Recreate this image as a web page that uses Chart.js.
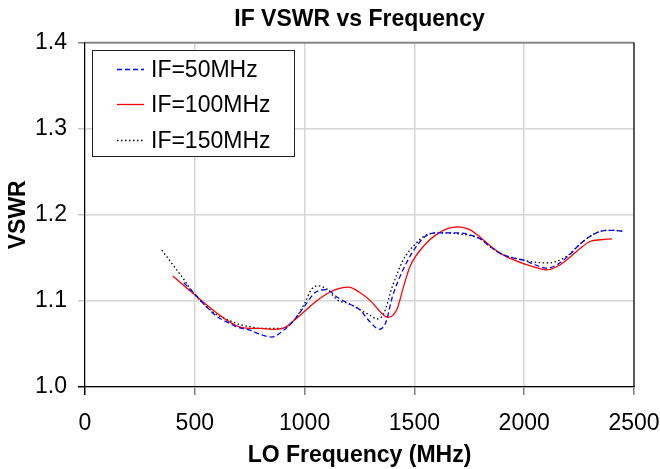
<!DOCTYPE html>
<html>
<head>
<meta charset="utf-8">
<script src="https://cdn.jsdelivr.net/npm/chart.js@4.4.1/dist/chart.umd.min.js"></script>
<style>
  html, body { margin: 0; padding: 0; background: #ffffff; }
  #wrap { width: 660px; height: 469px; }
</style>
</head>
<body>
<div id="wrap"><canvas id="c" width="660" height="469"></canvas></div>
<script>
// ---- Data ----
const seriesLabels = ["IF=50MHz", "IF=100MHz", "IF=150MHz"];

const freq50 = [450, 500, 550, 600, 650, 700, 750, 800, 850, 900, 950, 1000, 1050, 1100, 1150, 1200, 1250, 1300, 1340, 1370, 1400, 1450, 1500, 1550, 1600, 1650, 1700, 1750, 1800, 1850, 1900, 1950, 2000, 2050, 2100, 2150, 2200, 2250, 2300, 2350, 2400, 2450];
const vswr50 = [1.121, 1.108, 1.094, 1.082, 1.075, 1.069, 1.066, 1.061, 1.058, 1.065, 1.077, 1.094, 1.110, 1.113, 1.104, 1.097, 1.090, 1.075, 1.067, 1.075, 1.105, 1.137, 1.160, 1.175, 1.179, 1.179, 1.179, 1.177, 1.172, 1.162, 1.154, 1.150, 1.147, 1.142, 1.138, 1.142, 1.152, 1.165, 1.175, 1.181, 1.182, 1.181];

const freq100 = [400, 450, 500, 550, 600, 650, 700, 750, 800, 850, 900, 950, 1000, 1050, 1100, 1150, 1200, 1250, 1300, 1350, 1380, 1420, 1450, 1480, 1550, 1600, 1650, 1700, 1750, 1800, 1850, 1900, 1950, 2000, 2050, 2100, 2150, 2200, 2250, 2300, 2350, 2400];
const vswr100 = [1.129, 1.118, 1.107, 1.096, 1.086, 1.077, 1.070, 1.068, 1.068, 1.067, 1.068, 1.077, 1.088, 1.099, 1.108, 1.114, 1.116, 1.110, 1.100, 1.086, 1.081, 1.090, 1.116, 1.140, 1.166, 1.177, 1.184, 1.186, 1.183, 1.174, 1.163, 1.154, 1.148, 1.143, 1.139, 1.136, 1.140, 1.149, 1.160, 1.169, 1.171, 1.172];

const freq150 = [350, 400, 450, 500, 550, 600, 650, 700, 750, 800, 850, 900, 950, 1000, 1030, 1060, 1100, 1150, 1200, 1250, 1300, 1330, 1360, 1400, 1450, 1500, 1550, 1600, 1650, 1700, 1750, 1800, 1850, 1900, 1950, 2000, 2050, 2100, 2150, 2200, 2250, 2300, 2350, 2400, 2450];
const vswr150 = [1.159, 1.142, 1.125, 1.107, 1.094, 1.084, 1.078, 1.073, 1.070, 1.068, 1.068, 1.068, 1.077, 1.097, 1.113, 1.1175, 1.114, 1.101, 1.097, 1.090, 1.083, 1.079, 1.085, 1.117, 1.148, 1.165, 1.176, 1.179, 1.179, 1.178, 1.176, 1.172, 1.162, 1.154, 1.150, 1.147, 1.145, 1.144, 1.146, 1.153, 1.165, 1.175, 1.181, 1.182, 1.181];

const xTicks = [0, 500, 1000, 1500, 2000, 2500];
const yTicks = [1.0, 1.1, 1.2, 1.3, 1.4];

const chartTitle = "IF VSWR vs Frequency";
const xTitle = "LO Frequency (MHz)";
const yTitle = "VSWR";

// ---- Build datasets ----
function pts(xs, ys) { return xs.map((x, i) => ({ x: x, y: ys[i] })); }

const FONT = "'Liberation Sans', Arial, Helvetica, sans-serif";

const datasets = [
  { label: seriesLabels[0], data: pts(freq50, vswr50), borderColor: "#0000ff", borderWidth: 1.3, borderDash: [5, 3] },
  { label: seriesLabels[1], data: pts(freq100, vswr100), borderColor: "#ff0000", borderWidth: 1.3, borderDash: [] },
  { label: seriesLabels[2], data: pts(freq150, vswr150), borderColor: "#000000", borderWidth: 1.3, borderDash: [1.5, 2.5] }
].map(d => Object.assign(d, { pointRadius: 0, fill: false, cubicInterpolationMode: "monotone" }));

const frameAndLegend = {
  id: "frameAndLegend",
  afterDatasetsDraw(chart) {
    const { ctx, chartArea: a } = chart;
    ctx.save();
    // top and right frame lines
    ctx.lineWidth = 1.5;
    ctx.strokeStyle = "#808080";
    ctx.beginPath(); ctx.moveTo(a.left, a.top); ctx.lineTo(a.right, a.top); ctx.stroke();
    ctx.strokeStyle = "#000000";
    ctx.lineWidth = 1.2;
    ctx.beginPath(); ctx.moveTo(a.right, a.top); ctx.lineTo(a.right, a.bottom); ctx.stroke();

    // legend box
    const bx = 92.5, by = 50.5, bw = 202, bh = 106;
    ctx.fillStyle = "#ffffff";
    ctx.fillRect(bx, by, bw, bh);
    ctx.strokeStyle = "#222222";
    ctx.lineWidth = 1;
    ctx.strokeRect(bx, by, bw, bh);
    const rows = [69.5, 104.5, 140.5];
    ctx.font = "23px " + FONT;
    ctx.textBaseline = "middle";
    ctx.textAlign = "left";
    chart.data.datasets.forEach((ds, i) => {
      const y = rows[i];
      ctx.strokeStyle = ds.borderColor;
      ctx.lineWidth = ds.borderWidth;
      ctx.setLineDash(ds.borderDash || []);
      ctx.beginPath(); ctx.moveTo(117, y); ctx.lineTo(144, y); ctx.stroke();
      ctx.setLineDash([]);
      ctx.fillStyle = "#000000";
      ctx.fillText(ds.label, 151, y + 1);
    });
    ctx.restore();
  }
};

new Chart(document.getElementById("c"), {
  type: "line",
  data: { datasets: datasets },
  plugins: [frameAndLegend],
  options: {
    responsive: false,
    animation: false,
    layout: { padding: { left: 0, right: 0, top: 0, bottom: 0 } },
    plugins: {
      legend: { display: false },
      tooltip: { enabled: false },
      title: {
        display: true,
        fullSize: false,
        text: chartTitle,
        color: "#000000",
        font: { family: FONT, size: 23, weight: "bold" },
        padding: { top: 6, bottom: 9 }
      }
    },
    scales: {
      x: {
        type: "linear",
        min: xTicks[0],
        max: xTicks[xTicks.length - 1],
        afterBuildTicks(scale) { scale.ticks = xTicks.map(v => ({ value: v })); },
        afterFit(scale) { scale.height = 82; scale.paddingRight = 26; scale.paddingLeft = 0; },
        ticks: { color: "#000000", font: { family: FONT, size: 23 }, padding: 15, maxRotation: 0, autoSkip: false, callback: (v) => String(v) },
        grid: {
          color: "#d6d6d6",
          lineWidth: 1.5,
          tickLength: 8,
          tickColor: (c) => (c.tick && c.tick.value === 0 ? "#000000" : "#808080")
        },
        border: { display: true, color: "#000000", width: 1.2 },
        title: {
          display: true,
          text: xTitle,
          color: "#000000",
          font: { family: FONT, size: 23, weight: "bold" },
          padding: { top: 0, bottom: 0 }
        }
      },
      y: {
        type: "linear",
        min: yTicks[0],
        max: yTicks[yTicks.length - 1],
        afterBuildTicks(scale) { scale.ticks = yTicks.map(v => ({ value: v })); },
        afterFit(scale) { scale.width = 85; },
        ticks: {
          color: "#000000",
          font: { family: FONT, size: 23 },
          padding: 11,
          callback: (v) => Number(v).toFixed(1)
        },
        grid: {
          color: (c) => (c.tick && Math.abs(c.tick.value - 1.4) < 1e-6 ? "#808080" : "#d6d6d6"),
          lineWidth: 1.5,
          tickLength: 7,
          tickColor: (c) => (c.tick && Math.abs(c.tick.value - 1.0) < 1e-6 ? "#000000" : (Math.abs(c.tick.value - 1.4) < 1e-6 ? "#808080" : "#c8c8c8"))
        },
        border: { display: true, color: "#000000", width: 1.2 },
        title: {
          display: true,
          text: yTitle,
          color: "#000000",
          font: { family: FONT, size: 23, weight: "bold" },
          padding: { top: 5, bottom: 0 }
        }
      }
    }
  }
});
</script>
</body>
</html>
